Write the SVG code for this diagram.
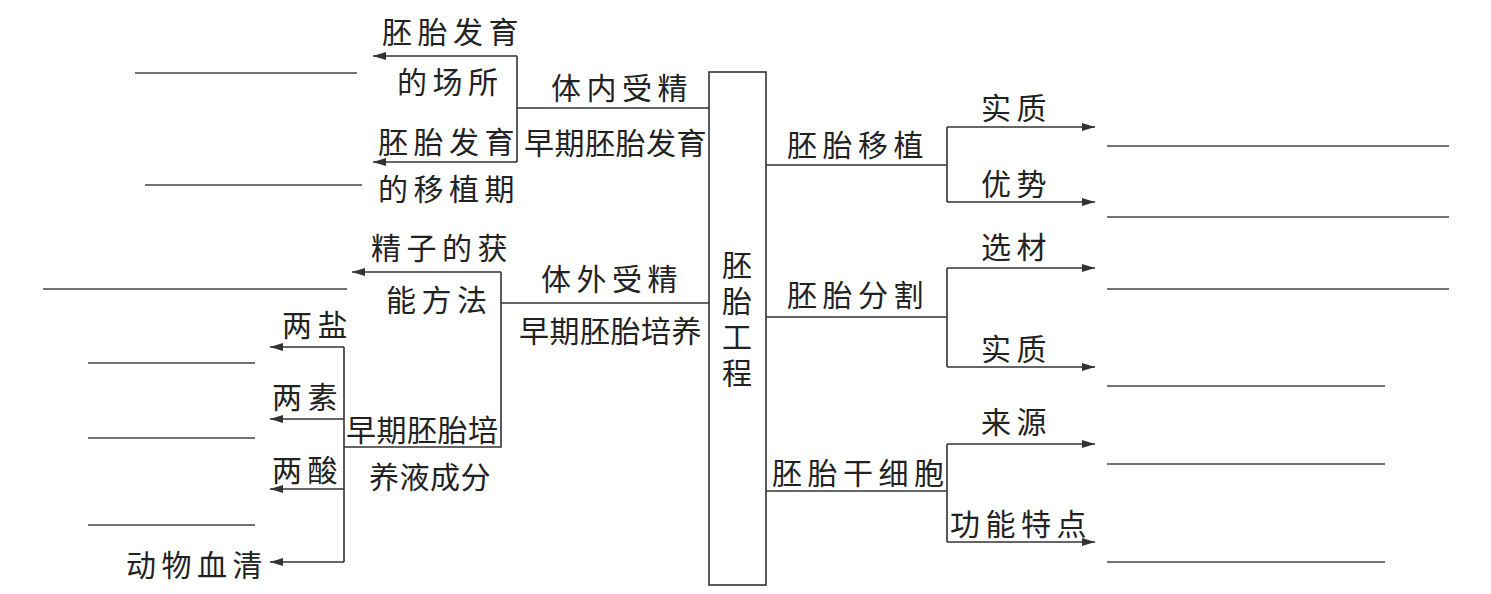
<svg xmlns="http://www.w3.org/2000/svg" width="1491" height="594" viewBox="0 0 1491 594">
<style>
.t{font-family:"Noto Sans CJK SC","Noto Sans",sans-serif;font-size:30px;fill:#222;dominant-baseline:central}
.s{letter-spacing:5.5px}
.g{letter-spacing:0.5px}
.v{writing-mode:vertical-rl;letter-spacing:6px}
.ln{stroke:#333;stroke-width:1.6;fill:none}
.bl{stroke:#444;stroke-width:1.5;fill:none}
.ar{stroke:#333;stroke-width:1.6;fill:none;marker-end:url(#ah)}
</style>
<defs>
<marker id="ah" markerUnits="userSpaceOnUse" markerWidth="14" markerHeight="10" refX="13" refY="5" orient="auto">
<path d="M0,1 L13,5 L0,9 Z" fill="#333"/>
</marker>
</defs>
<rect width="1491" height="594" fill="#fff"/>

<g id="connectors">
<path class="ln" d="M709,108 H517 M517,56 V162"/>
<path class="ar" d="M517,56 H373"/>
<path class="ar" d="M517,162 H373"/>
<path class="ln" d="M709,303 H501 M501,272 V447 H344 M344,347 V562"/>
<path class="ar" d="M501,272 H352"/>
<path class="ar" d="M344,347 H270"/>
<path class="ar" d="M344,419 H270"/>
<path class="ar" d="M344,489 H270"/>
<path class="ar" d="M344,562 H270"/>
<path class="ln" d="M766,165 H947 M947,127 V202"/>
<path class="ar" d="M947,127 H1095"/>
<path class="ar" d="M947,202 H1095"/>
<path class="ln" d="M766,317 H947 M947,268 V367"/>
<path class="ar" d="M947,268 H1095"/>
<path class="ar" d="M947,367 H1095"/>
<path class="ln" d="M766,491 H947 M947,444 V542"/>
<path class="ar" d="M947,444 H1095"/>
<path class="ar" d="M947,542 H1095"/>
</g>

<g id="center">
<rect x="709" y="72" width="57" height="513" fill="#fff" stroke="#333" stroke-width="1.6"/>
<text class="t v" x="737" y="250">胚胎工程</text>
</g>

<g id="n-tinei"><text class="t s" x="551" y="86">体内受精</text></g>
<g id="n-zaoqi-fayu"><text class="t g" x="524" y="141">早期胚胎发育</text></g>
<g id="n-changsuo"><text class="t s" x="382" y="30">胚胎发育</text><text class="t s" x="397" y="80">的场所</text></g>
<g id="n-yizhiqi"><text class="t s" x="378" y="140">胚胎发育</text><text class="t s" x="378" y="187">的移植期</text></g>

<g id="n-tiwai"><text class="t s" x="541" y="277">体外受精</text></g>
<g id="n-zaoqi-peiyang"><text class="t g" x="519" y="329">早期胚胎培养</text></g>
<g id="n-huoneng"><text class="t s" x="371" y="246">精子的获</text><text class="t s" x="386" y="298">能方法</text></g>
<g id="n-peiyangye"><text class="t g" x="346" y="428">早期胚胎培</text><text class="t g" x="369" y="475">养液成分</text></g>
<g id="n-liangyan"><text class="t s" x="282" y="323">两盐</text></g>
<g id="n-liangsu"><text class="t s" x="272" y="395">两素</text></g>
<g id="n-liangsuan"><text class="t s" x="272" y="468">两酸</text></g>
<g id="n-xueqing"><text class="t s" x="126" y="563">动物血清</text></g>

<g id="n-yizhi"><text class="t s" x="787" y="143">胚胎移植</text></g>
<g id="n-fenge"><text class="t s" x="787" y="293">胚胎分割</text></g>
<g id="n-gan"><text class="t s" x="772" y="471">胚胎干细胞</text></g>
<g id="n-shizhi1"><text class="t s" x="981" y="106">实质</text></g>
<g id="n-youshi"><text class="t s" x="981" y="182">优势</text></g>
<g id="n-xuancai"><text class="t s" x="981" y="245">选材</text></g>
<g id="n-shizhi2"><text class="t s" x="981" y="347">实质</text></g>
<g id="n-laiyuan"><text class="t s" x="981" y="420">来源</text></g>
<g id="n-gongneng"><text class="t s" x="950" y="522">功能特点</text></g>

<g id="blanks">
<path class="bl" d="M135,73 H357 M145,185 H362 M43,289 H347 M88,363 H255 M88,438 H255 M88,525 H255"/>
<path class="bl" d="M1107,146 H1449 M1107,217 H1449 M1107,289 H1449 M1107,386 H1385 M1107,464 H1385 M1107,562 H1385"/>
</g>
</svg>
